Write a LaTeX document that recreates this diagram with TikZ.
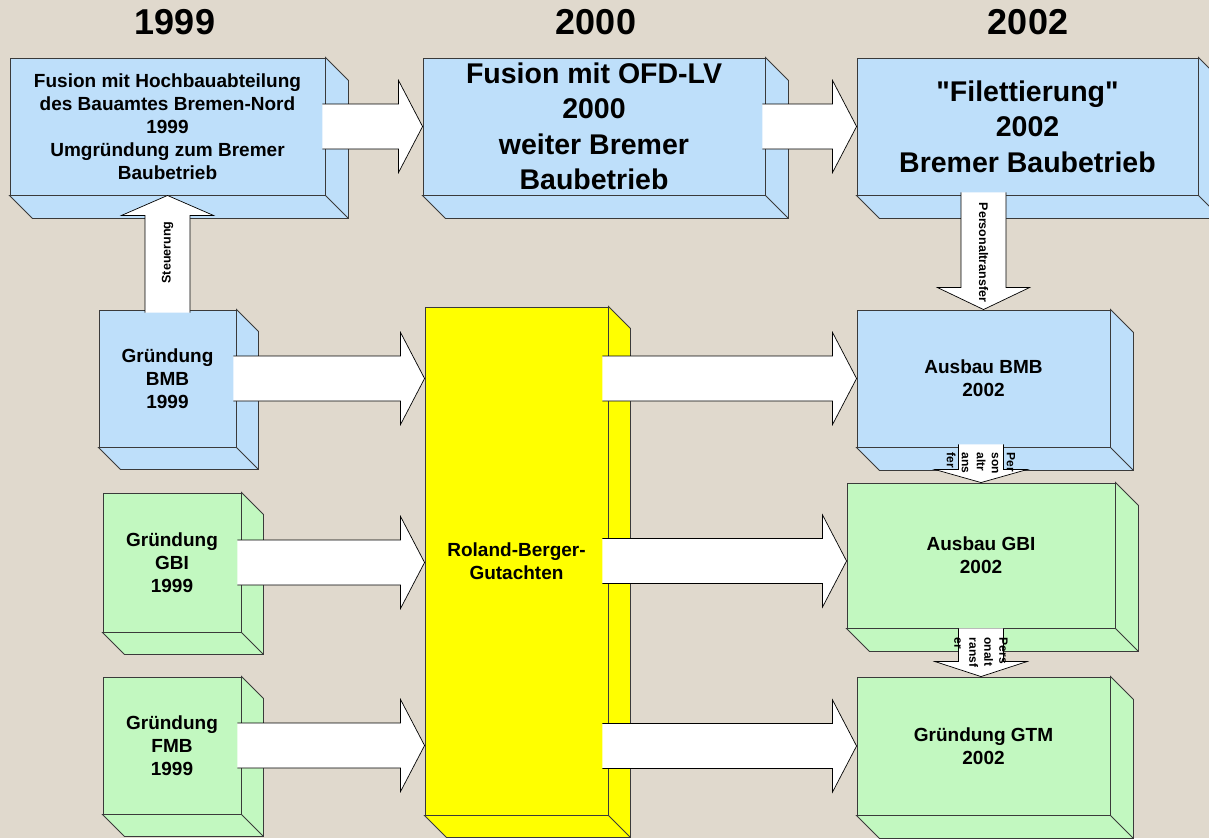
\documentclass[tikz,border=0pt]{standalone}
\usepackage{fontspec}
\setmainfont{Liberation Sans}
\usetikzlibrary{calc}
\definecolor{bgbeige}{HTML}{E0D9CD}
\definecolor{bblue}{HTML}{BEDFFA}
\definecolor{bgreen}{HTML}{C2F8C0}
\definecolor{byellow}{HTML}{FFFF00}
\definecolor{edge}{HTML}{3A3A3A}
\tikzset{
  face/.style={
    draw=edge, fill=#1, line width=0.9pt, inner sep=0pt, align=center,
    font=\fontsize{19}{23}\selectfont\bfseries
  },
  face/.default=bblue,
  bigtext/.style={font=\fontsize{28.5}{35.5}\selectfont\bfseries},
  year/.style={font=\fontsize{36}{40}\selectfont\bfseries},
  vlab/.style={font=\fontsize{12.5}{15}\selectfont\bfseries, inner sep=0pt, align=left},
  blockarrow/.style={fill=white, draw=black, line width=0.7pt, line join=miter}
}
\newcommand\arrshaft{22.5pt}
\newcommand\arrhead{46pt}
\newcommand\arrlen{24pt}
% side and bottom face of a box: node, depth, colour
\newcommand\extrude[3]{%
  \filldraw[fill=#3, draw=edge, line width=0.9pt]
    (#1.north east) -- ++(#2,#2) -- ($(#1.south east)+(#2,#2)$)
    -- ($(#1.south west)+(#2,#2)$) -- (#1.south west) -- (#1.south east) -- cycle
    (#1.south east) -- ($(#1.south east)+(#2,#2)$);
}
% fat arrow to the right: start, tip
\newcommand\harrow[2]{%
  \path[blockarrow] let \p1=(#1), \p2=(#2) in
    (\x1,\y1+\arrshaft) -- (\x2-\arrlen,\y1+\arrshaft) -- (\x2-\arrlen,\y1+\arrhead)
    -- (\x2,\y1) -- (\x2-\arrlen,\y1-\arrhead) -- (\x2-\arrlen,\y1-\arrshaft)
    -- (\x1,\y1-\arrshaft);
}
% fat vertical arrow: start, tip, head length (signed)
\newcommand\varrow[3]{%
  \path[blockarrow] let \p1=(#1), \p2=(#2) in
    (\x2+\arrshaft,\y1) -- (\x2+\arrshaft,{\y2+(#3)}) -- (\x2+\arrhead,{\y2+(#3)})
    -- (\x2,\y2) -- (\x2-\arrhead,{\y2+(#3)}) -- (\x2-\arrshaft,{\y2+(#3)})
    -- (\x2-\arrshaft,\y1);
}

\begin{document}
\begin{tikzpicture}[x=1pt,y=-1pt]
  \fill[bgbeige] (0,0) rectangle (1209,838);
  \useasboundingbox (0,0) rectangle (1209,838);

  % years
  \node[year] (y99) at (175,22) {1999};
  \node[year] (y00) at (596,22) {2000};
  \node[year] (y02) at (1028,22) {2002};

  % top row
  \node[face, minimum width=315pt, minimum height=137pt] (main) at (167.5,126.5)
    {Fusion mit Hochbauabteilung\\des Bauamtes Bremen-Nord\\1999\\Umgründung zum Bremer\\Baubetrieb};
  \extrude{main}{23}{bblue}
  \node[face, bigtext, minimum width=342pt, minimum height=137pt] (fusion) at (594,126.5)
    {Fusion mit OFD-LV\\2000\\weiter Bremer\\Baubetrieb};
  \extrude{fusion}{23}{bblue}
  \node[face, bigtext, minimum width=341pt, minimum height=137pt] (filet) at (1027.5,126.5)
    {\textquotedbl Filettierung\textquotedbl\\2002\\Bremer Baubetrieb};
  \extrude{filet}{23}{bblue}

  % left column
  \node[face, minimum width=137pt, minimum height=137pt] (bmb) at (167.5,378.5)
    {Gründung\\BMB\\1999};
  \extrude{bmb}{22}{bblue}
  \node[face=bgreen, minimum width=138pt, minimum height=139pt] (gbi) at (172,562.5)
    {Gründung\\GBI\\1999};
  \extrude{gbi}{22}{bgreen}
  \node[face=bgreen, minimum width=138pt, minimum height=137pt] (fmb) at (172,745.5)
    {Gründung\\FMB\\1999};
  \extrude{fmb}{22}{bgreen}

  % middle
  \node[face=byellow, minimum width=183pt, minimum height=508pt] (roland) at (516.5,561)
    {Roland-Berger-\\Gutachten};
  \extrude{roland}{22}{byellow}

  % right column
  \node[face, minimum width=253pt, minimum height=137pt] (ausbmb) at (983.5,378.5)
    {Ausbau BMB\\2002};
  \extrude{ausbmb}{23}{bblue}
  \node[face=bgreen, minimum width=268pt, minimum height=145pt] (ausgbi) at (981,555.5)
    {Ausbau GBI\\2002};
  \extrude{ausgbi}{23}{bgreen}
  \node[face=bgreen, minimum width=253pt, minimum height=138pt] (gtm) at (983.5,746)
    {Gründung GTM\\2002};
  \extrude{gtm}{23}{bgreen}

  % arrows
  \harrow{$(main.east)+(-3,0)$}{fusion.west}
  \harrow{$(fusion.east)+(-3,0)$}{filet.west}
  \harrow{$(bmb.east)+(-3,0)$}{roland.west |- bmb.east}
  \harrow{$(gbi.east)+(-4,0)$}{roland.west |- gbi.east}
  \harrow{$(fmb.east)+(-4,0)$}{roland.west |- fmb.east}
  \harrow{$(roland.east |- ausbmb.west)+(-6,0)$}{ausbmb.west}
  \harrow{$(roland.east)+(-6,0)$}{ausgbi.west |- roland.east}
  \harrow{$(roland.east |- gtm.west)+(-6,0)$}{gtm.west}

  \varrow{$(bmb.north)+(0,3)$}{main.south}{-20pt}
  \node[vlab, rotate=90] (steu) at ($(bmb.north)!0.5!(main.south)$) {Steuerung};
  \varrow{$(ausbmb.north |- filet.south)+(0,-3)$}{ausbmb.north}{22pt}
  \node[vlab, rotate=-90] (pt1) at ($(ausbmb.north |- filet.south)!0.5!(ausbmb.north)$) {Personaltransfer};
  \varrow{$(ausgbi.north |- ausbmb.south)+(0,-3)$}{ausgbi.north}{13pt}
  \node[vlab, font=\fontsize{12}{15}\selectfont\bfseries, rotate=-90, anchor=west] (pt2)
    at ($(ausgbi.north |- ausbmb.south)+(0,5)$) {Per\\son\\altr\\ans\\fer};
  \varrow{ausgbi.south}{ausgbi.south |- gtm.north}{15pt}
  \node[vlab, font=\fontsize{12}{15}\selectfont\bfseries, rotate=-90, anchor=west] (pt3)
    at ($(ausgbi.south)+(0,9)$) {Pers\\onalt\\ransf\\er};
\end{tikzpicture}
\end{document}
